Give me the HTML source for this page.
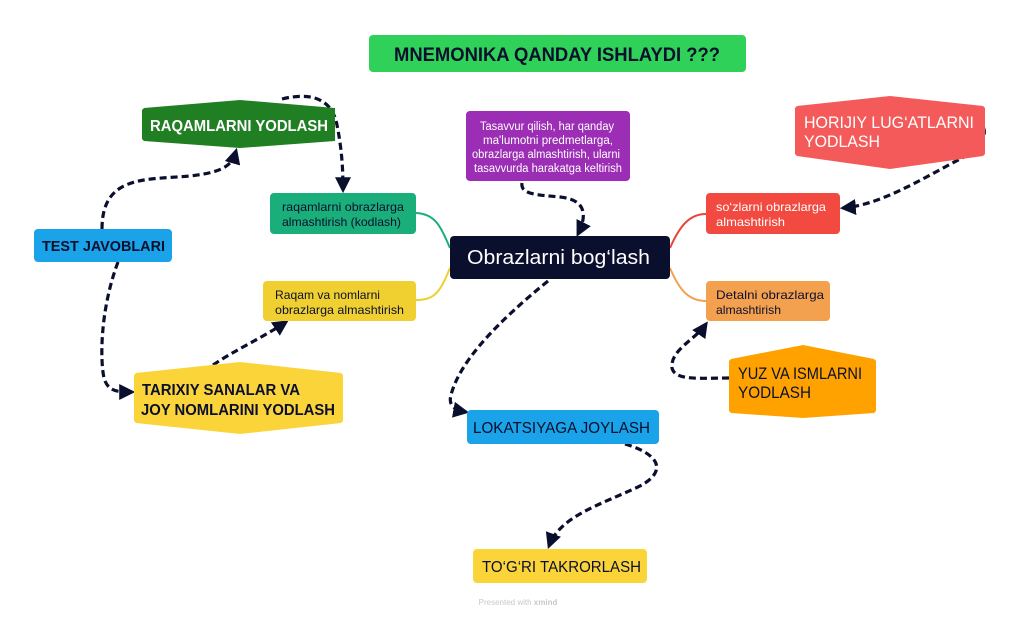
<!DOCTYPE html>
<html><head><meta charset="utf-8"><style>
html,body{margin:0;padding:0;background:#fff;}
svg{display:block;font-family:"Liberation Sans",sans-serif;}
</style></head><body>
<svg width="1024" height="618" viewBox="0 0 1024 618" xmlns="http://www.w3.org/2000/svg">
<defs>
<marker id="ah" viewBox="0 0 10 10" refX="8" refY="5" markerWidth="5" markerHeight="5" orient="auto-start-reverse">
<path d="M0,0 L10,5 L0,10 z" fill="#0b0f2e"/></marker>
</defs>
<rect width="1024" height="618" fill="#fff"/>
<rect x="369" y="35" width="377" height="37" rx="4" fill="#2fd158"/>
<text x="394" y="61" font-size="19" font-weight="bold" fill="#0b0f2e" textLength="326" lengthAdjust="spacingAndGlyphs">MNEMONIKA QANDAY ISHLAYDI ???</text>

<path d="M450,248 C440,225 435,214 416,213" fill="none" stroke="#1aae7a" stroke-width="2"/>
<path d="M450,268 C440,292 435,300 416,300" fill="none" stroke="#f0d030" stroke-width="2"/>
<path d="M670,248 C680,225 690,214 706,214" fill="none" stroke="#e8453c" stroke-width="2"/>
<path d="M670,268 C680,292 690,301 706,301" fill="none" stroke="#f3a04f" stroke-width="2"/>

<g fill="none" stroke="#0b0f2e" stroke-width="3.2" stroke-dasharray="7,4" marker-end="url(#ah)">
<path d="M102,229 C102,175 145,180 190,176 C225,172 232,165 236,151"/>
<path d="M282,99 C310,92 332,98 337,125 C342,150 343,170 343,190"/>
<path d="M118,262 C100,310 100,360 104,378 C108,392 118,392 132,392"/>
<path d="M213,365 C235,350 262,338 286,322"/>
<path d="M522,183 C520,195 540,195 560,197 C590,200 585,220 578,234"/>
<path d="M975,121 C992,126 985,147 960,159 C920,180 880,205 843,208"/>
<path d="M729,378 C700,378 675,381 672,368 C670,350 695,340 706,324"/>
<path d="M548,281 C500,320 460,360 451,395 C448,406 455,410 466,412"/>
<path d="M625,444 C662,455 666,472 640,486 C600,505 560,516 549,546"/>
</g>

<polygon points="142,110 144,108 240,100 335,108 335,141 240,148 144,141 142,139" fill="#1f7f22"/>
<text x="150" y="131" font-size="16" font-weight="bold" fill="#fff" textLength="178" lengthAdjust="spacingAndGlyphs">RAQAMLARNI YODLASH</text>

<rect x="270" y="193" width="146" height="41" rx="4" fill="#1aae7a"/>
<text x="282" y="211" font-size="12" fill="#0b0f2e" textLength="122" lengthAdjust="spacingAndGlyphs">raqamlarni obrazlarga</text>
<text x="282" y="226" font-size="12" fill="#0b0f2e" textLength="119" lengthAdjust="spacingAndGlyphs">almashtirish (kodlash)</text>

<rect x="34" y="229" width="138" height="33" rx="4" fill="#1aa3e8"/>
<text x="42" y="251" font-size="15" font-weight="bold" fill="#0b0f2e" textLength="123" lengthAdjust="spacingAndGlyphs">TEST JAVOBLARI</text>

<rect x="263" y="281" width="153" height="40" rx="4" fill="#f0d030"/>
<text x="275" y="299" font-size="12" fill="#0b0f2e" textLength="105" lengthAdjust="spacingAndGlyphs">Raqam va nomlarni</text>
<text x="275" y="314" font-size="12" fill="#0b0f2e" textLength="129" lengthAdjust="spacingAndGlyphs">obrazlarga almashtirish</text>

<polygon points="134,375 136,373 240,362 341,373 343,375 343,421 341,423 240,434 136,423 134,421" fill="#fbd43a"/>
<text x="142" y="395" font-size="16" font-weight="bold" fill="#0b0f2e" textLength="158" lengthAdjust="spacingAndGlyphs">TARIXIY SANALAR VA</text>
<text x="141" y="415" font-size="16" font-weight="bold" fill="#0b0f2e" textLength="194" lengthAdjust="spacingAndGlyphs">JOY NOMLARINI YODLASH</text>

<rect x="450" y="236" width="220" height="43" rx="4" fill="#0b0f2e"/>
<text x="467" y="264" font-size="20" fill="#fff" textLength="183" lengthAdjust="spacingAndGlyphs">Obrazlarni bog‘lash</text>

<rect x="466" y="111" width="164" height="70" rx="4" fill="#9c2db5"/>
<g font-size="11.5" fill="#fff">
<text x="480" y="130" textLength="134" lengthAdjust="spacingAndGlyphs">Tasavvur qilish, har qanday</text>
<text x="483" y="144" textLength="130" lengthAdjust="spacingAndGlyphs">ma'lumotni predmetlarga,</text>
<text x="472" y="158" textLength="148" lengthAdjust="spacingAndGlyphs">obrazlarga almashtirish, ularni</text>
<text x="474" y="172" textLength="148" lengthAdjust="spacingAndGlyphs">tasavvurda harakatga keltirish</text>
</g>

<polygon points="795,108 797,106 890,96 983,106 985,108 985,154 983,156 890,169 797,156 795,154" fill="#f55a5a"/>
<text x="804" y="128" font-size="17" fill="#fff" textLength="170" lengthAdjust="spacingAndGlyphs">HORIJIY LUG‘ATLARNI</text>
<text x="804" y="147" font-size="17" fill="#fff" textLength="76" lengthAdjust="spacingAndGlyphs">YODLASH</text>

<rect x="706" y="193" width="134" height="41" rx="4" fill="#f24a40"/>
<text x="716" y="211" font-size="12" fill="#fff" textLength="110" lengthAdjust="spacingAndGlyphs">so‘zlarni obrazlarga</text>
<text x="716" y="226" font-size="12" fill="#fff" textLength="69" lengthAdjust="spacingAndGlyphs">almashtirish</text>

<rect x="706" y="281" width="124" height="40" rx="4" fill="#f3a04f"/>
<text x="716" y="299" font-size="12" fill="#0b0f2e" textLength="108" lengthAdjust="spacingAndGlyphs">Detalni obrazlarga</text>
<text x="716" y="314" font-size="12" fill="#0b0f2e" textLength="65" lengthAdjust="spacingAndGlyphs">almashtirish</text>

<polygon points="729,361 731,359 803,345 874,359 876,361 876,411 874,413 803,418 731,413 729,411" fill="#ffa200"/>
<text x="738" y="379" font-size="17" fill="#0b0f2e" textLength="124" lengthAdjust="spacingAndGlyphs">YUZ VA ISMLARNI</text>
<text x="738" y="398" font-size="17" fill="#0b0f2e" textLength="73" lengthAdjust="spacingAndGlyphs">YODLASH</text>

<rect x="467" y="410" width="192" height="34" rx="4" fill="#1aa3e8"/>
<text x="473" y="433" font-size="16" fill="#0b0f2e" textLength="177" lengthAdjust="spacingAndGlyphs">LOKATSIYAGA JOYLASH</text>

<rect x="473" y="549" width="174" height="34" rx="4" fill="#fbd43a"/>
<text x="482" y="572" font-size="16" fill="#0b0f2e" textLength="159" lengthAdjust="spacingAndGlyphs">TO‘G‘RI TAKRORLASH</text>

<text x="518" y="605" text-anchor="middle" font-size="8" fill="#c8c8c8">Presented with <tspan font-weight="bold">xmind</tspan></text>
</svg>
</body></html>
